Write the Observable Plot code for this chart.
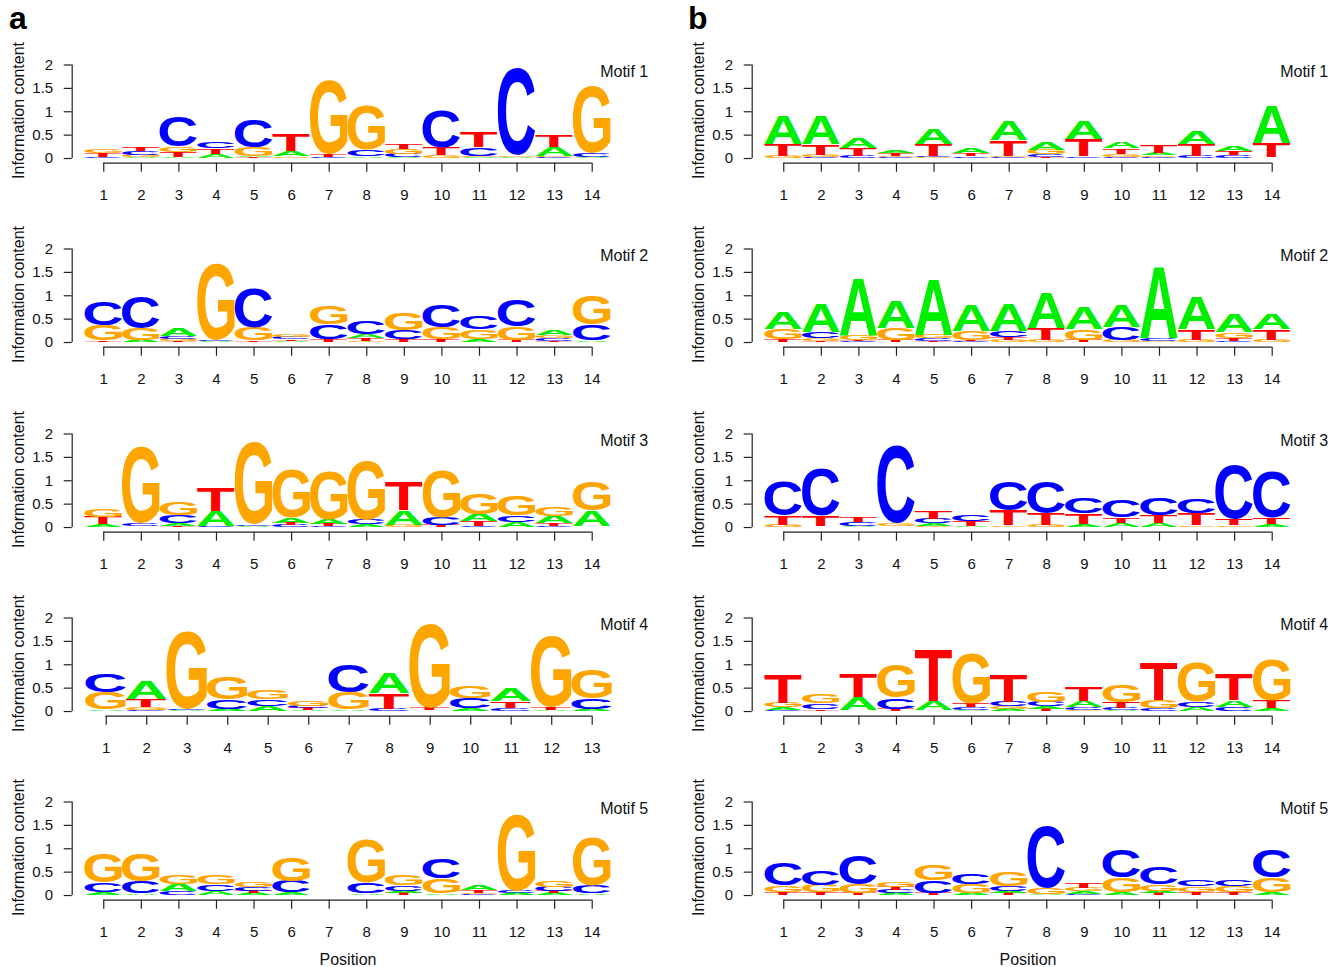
<!DOCTYPE html>
<html>
<head>
<meta charset="utf-8">
<script src="https://cdn.jsdelivr.net/npm/d3@7"></script>
<script src="https://cdn.jsdelivr.net/npm/@observablehq/plot@0.6"></script>
<style>
  html, body { margin: 0; padding: 0; background: #fff; }
  #root { position: relative; width: 1340px; height: 967px; overflow: hidden; background: #fff;
          font-family: "Liberation Sans", Arial, sans-serif; }
  .tag { position: absolute; font-weight: bold; font-size: 32px; line-height: 32px; color: #000; z-index: 2; }
  .panel { position: absolute; width: 680px; height: 184px; }
</style>
</head>
<body>
<div id="root">
  <div class="tag" style="left:9px;top:2px">a</div>
  <div class="tag" style="left:688px;top:2px">b</div>
</div>
<script>
// ---- Data: information content per letter at each position ----
const letters = ["A", "C", "G", "T"];
const yTicks = [0, 0.5, 1, 1.5, 2];
const motifLabels = ["Motif 1", "Motif 2", "Motif 3", "Motif 4", "Motif 5"];

const a1 = {
  A: [.01,.02,.02,.08,.03,.12,.01,.03,.02,.01,.02,.02,.18,.02],
  C: [.02,.07,.65,.15,.6,.01,.02,.15,.07,.8,.18,1.86,.02,.08],
  G: [.08,.05,.12,.01,.18,.03,1.57,.95,.1,.06,.03,.02,.03,1.44],
  T: [.07,.08,.1,.12,.02,.35,.06,.01,.1,.16,.33,.01,.25,.01]
};
const a2 = {
  A: [.01,.04,.15,.02,.01,.03,.01,.07,.01,.01,.06,.01,.12,.02],
  C: [.5,.68,.05,.02,.85,.04,.32,.28,.2,.48,.27,.55,.05,.34],
  G: [.33,.25,.04,1.62,.27,.06,.4,.03,.35,.25,.2,.28,.06,.62],
  T: [.02,.01,.03,.01,.02,.03,.04,.06,.05,.05,.01,.04,.03,.01]
};
const a3 = {
  A: [.06,.01,.06,.32,.02,.1,.1,.05,.31,.01,.15,.1,.15,.33],
  C: [.01,.06,.18,.02,.03,.04,.02,.1,.01,.16,.03,.15,.03,.01],
  G: [.16,1.64,.28,.01,1.74,1.04,1.05,1.28,.04,1.0,.45,.43,.2,.63],
  T: [.15,.01,.02,.5,.01,.05,.04,.01,.6,.04,.1,.01,.05,.01]
};
const a4 = {
  A: [.03,.38,.02,.04,.1,.02,.02,.43,.01,.05,.27,.02,.04],
  C: [.38,.02,.02,.2,.15,.05,.6,.04,.01,.22,.06,.01,.22],
  G: [.36,.06,1.66,.48,.18,.12,.36,.01,1.8,.25,.01,1.53,.62],
  T: [.01,.17,.01,.01,.01,.04,.01,.33,.04,.01,.14,.05,.01]
};
const a5 = {
  A: [.05,.03,.15,.08,.04,.05,0,.03,.05,.03,.12,.04,.04,.03],
  C: [.2,.26,.07,.15,.08,.24,0,.22,.12,.42,.02,.04,.1,.17],
  G: [.62,.6,.18,.2,.12,.5,0,.92,.22,.32,.03,1.62,.15,1.03],
  T: [.01,.01,.01,.01,.04,.01,0,.01,.04,.01,.05,.01,.04,.01]
};
const b1 = {
  A: [.62,.6,.21,.06,.32,.1,.41,.15,.4,.14,.04,.28,.11,.8],
  C: [.01,.02,.04,.02,.03,.03,.02,.06,.03,.03,.03,.04,.06,.01],
  G: [.04,.05,.01,.03,.02,.01,.03,.1,.01,.06,.03,.01,.01,.01],
  T: [.24,.22,.16,.05,.25,.06,.33,.02,.37,.12,.16,.25,.09,.3]
};
const b2 = {
  A: [.37,.6,1.22,.57,1.18,.56,.57,.74,.47,.46,1.52,.7,.4,.32],
  C: [.01,.14,.02,.01,.06,.02,.14,.01,.01,.28,.06,.01,.03,.01],
  G: [.22,.06,.1,.24,.07,.2,.05,.04,.22,.04,.02,.04,.12,.04],
  T: [.05,.02,.03,.04,.02,.02,.05,.24,.04,.01,.01,.22,.06,.22]
};
const b3 = {
  A: [.01,.01,.02,.01,.06,.02,.01,.01,.06,.08,.07,.01,.01,.06],
  C: [.73,1.0,.08,1.65,.1,.14,.62,.68,.34,.37,.36,.32,1.15,.98],
  G: [.04,.01,.01,.06,.02,.01,.03,.04,.01,.01,.01,.03,.03,.01],
  T: [.2,.22,.12,.01,.15,.1,.32,.24,.22,.12,.17,.25,.14,.14]
};
const b4 = {
  A: [.06,.01,.28,.01,.2,.03,.05,.06,.13,.02,.01,.08,.14,.05],
  C: [.02,.12,.01,.23,.01,.05,.1,.1,.06,.04,.06,.12,.08,.01],
  G: [.1,.2,.01,.7,.01,1.08,.05,.23,.03,.35,.16,.85,.01,.88],
  T: [.6,.03,.5,.04,1.12,.08,.58,.04,.29,.13,.8,.01,.55,.16]
};
const b5 = {
  A: [.01,.01,.01,.04,.01,.04,.05,.02,.05,.04,.05,.01,.01,.04],
  C: [.47,.32,.62,.07,.26,.22,.1,1.32,.03,.6,.36,.13,.15,.6],
  G: [.15,.16,.18,.1,.33,.18,.3,.13,.08,.32,.13,.12,.14,.32],
  T: [.05,.05,.04,.07,.04,.01,.04,.01,.12,.01,.04,.06,.05,.01]
};
const columns = [[a1, a2, a3, a4, a5], [b1, b2, b3, b4, b5]];

// ---- Styling ----
const letterColors = {A: "#00ee00", C: "#0000ff", G: "#ffa500", T: "#ff0000"};
const FONT = "'Liberation Sans', Arial, sans-serif";
const NS = "http://www.w3.org/2000/svg";
const xLo = 0.16;        // where the y axis line sits (in position units)
const axisBase = -0.1;   // x axis line sits a little below zero
const ROW_STEP = 184.25;

// Measure the ink box of each glyph so letters fill their slot exactly
const ctx = document.createElement("canvas").getContext("2d");
ctx.font = "bold 100px 'Liberation Sans'";
ctx.textAlign = "left";
ctx.textBaseline = "alphabetic";
const ink = {};
for (const L of letters) {
  const m = ctx.measureText(L);
  let l = m.actualBoundingBoxLeft, r = m.actualBoundingBoxRight,
      a = m.actualBoundingBoxAscent, d = m.actualBoundingBoxDescent;
  if (!(r > 0) || !(a > 0)) { l = -4; r = 72; a = 72; d = 1; }
  ink[L] = {l, r, a, d};
}

function stackRows(m) {
  const n = m.A.length, rows = [];
  for (let i = 0; i < n; i++) {
    const items = letters.map(L => ({L, h: m[L][i]})).sort((p, q) => p.h - q.h);
    let y = 0;
    for (const it of items) {
      rows.push({pos: i + 1, letter: it.L, y1: y, y2: y + it.h});
      y += it.h;
    }
  }
  return rows;
}

function logoMark(rows) {
  return function (...args) {
    const s = args.find(a => a && typeof a.x === "function" && typeof a.y === "function");
    const g = document.createElementNS(NS, "g");
    if (!s) return g;
    for (const d of rows) {
      const x1 = s.x(d.pos - 0.5), x2 = s.x(d.pos + 0.5);
      const yb = s.y(d.y1), yt = s.y(d.y2);
      const w = x2 - x1, h = yb - yt;
      if (h < 0.25) continue;
      const k = ink[d.letter];
      const sx = w / (k.l + k.r), sy = h / (k.a + k.d);
      const t = document.createElementNS(NS, "text");
      t.setAttribute("transform", `translate(${x1 + k.l * sx},${yb - k.d * sy}) scale(${sx},${sy})`);
      t.setAttribute("text-anchor", "start");
      t.setAttribute("dominant-baseline", "alphabetic");
      t.setAttribute("font-size", "100");
      t.setAttribute("font-weight", "bold");
      t.setAttribute("font-family", "Liberation Sans, Arial, sans-serif");
      t.setAttribute("fill", letterColors[d.letter]);
      t.textContent = d.letter;
      g.appendChild(t);
    }
    return g;
  };
}

const root = document.getElementById("root");
columns.forEach((col, c) => {
  col.forEach((motif, r) => {
    const n = motif.A.length;
    const xTicks = d3.range(1, n + 1);
    const yMid = (d3.min(yTicks) + d3.max(yTicks)) / 2;
    const marks = [
      logoMark(stackRows(motif)),
      Plot.ruleX([{x: xLo, y1: d3.min(yTicks), y2: d3.max(yTicks)}],
        {x: "x", y1: "y1", y2: "y2", stroke: "#222", strokeWidth: 1.2}),
      Plot.ruleY([{y: axisBase, x1: 1, x2: n}],
        {y: "y", x1: "x1", x2: "x2", stroke: "#222", strokeWidth: 1.2}),
      Plot.axisY({ticks: yTicks, tickSize: 8, tickPadding: 11, tickFormat: d => String(d),
        label: null, fontSize: 15, stroke: "#222", strokeWidth: 1.2, fill: "#111"}),
      Plot.axisX({ticks: xTicks, tickSize: 9, tickPadding: 17, tickFormat: d => String(d),
        label: null, fontSize: 15, stroke: "#222", strokeWidth: 1.2, fill: "#111"}),
      Plot.text([motifLabels[r]], {frameAnchor: "top-right", textAnchor: "start",
        lineAnchor: "middle", dx: 8, dy: 6.5, fontSize: 16, fill: "#111"}),
      Plot.text([{y: yMid, t: "Information content"}], {y: "y", text: "t", frameAnchor: "left",
        textAnchor: "middle", lineAnchor: "middle",
        rotate: -90, dx: -53.7, dy: -1.3, fontSize: 16, fill: "#111"})
    ];
    if (r === col.length - 1) {
      marks.push(Plot.text([{x: (1 + n) / 2, t: "Position"}],
        {x: "x", text: "t", frameAnchor: "bottom", lineAnchor: "middle", dy: 60, fontSize: 16, fill: "#111"}));
    }
    const chart = Plot.plot({
      width: 680,
      height: 184,
      marginLeft: 71.7,
      marginRight: 88.3,
      marginTop: 64.5,
      marginBottom: 21.3,
      x: {domain: [xLo, n], label: null},
      y: {domain: [axisBase, d3.max(yTicks)], label: null},
      style: `font-family: ${FONT}; font-size: 15px; overflow: visible; background: transparent; color: #111;`,
      marks
    });
    const div = document.createElement("div");
    div.className = "panel";
    div.style.left = (c * 680) + "px";
    div.style.top = Math.round(r * ROW_STEP) + "px";
    div.appendChild(chart);
    root.appendChild(div);
  });
});
</script>
</body>
</html>
